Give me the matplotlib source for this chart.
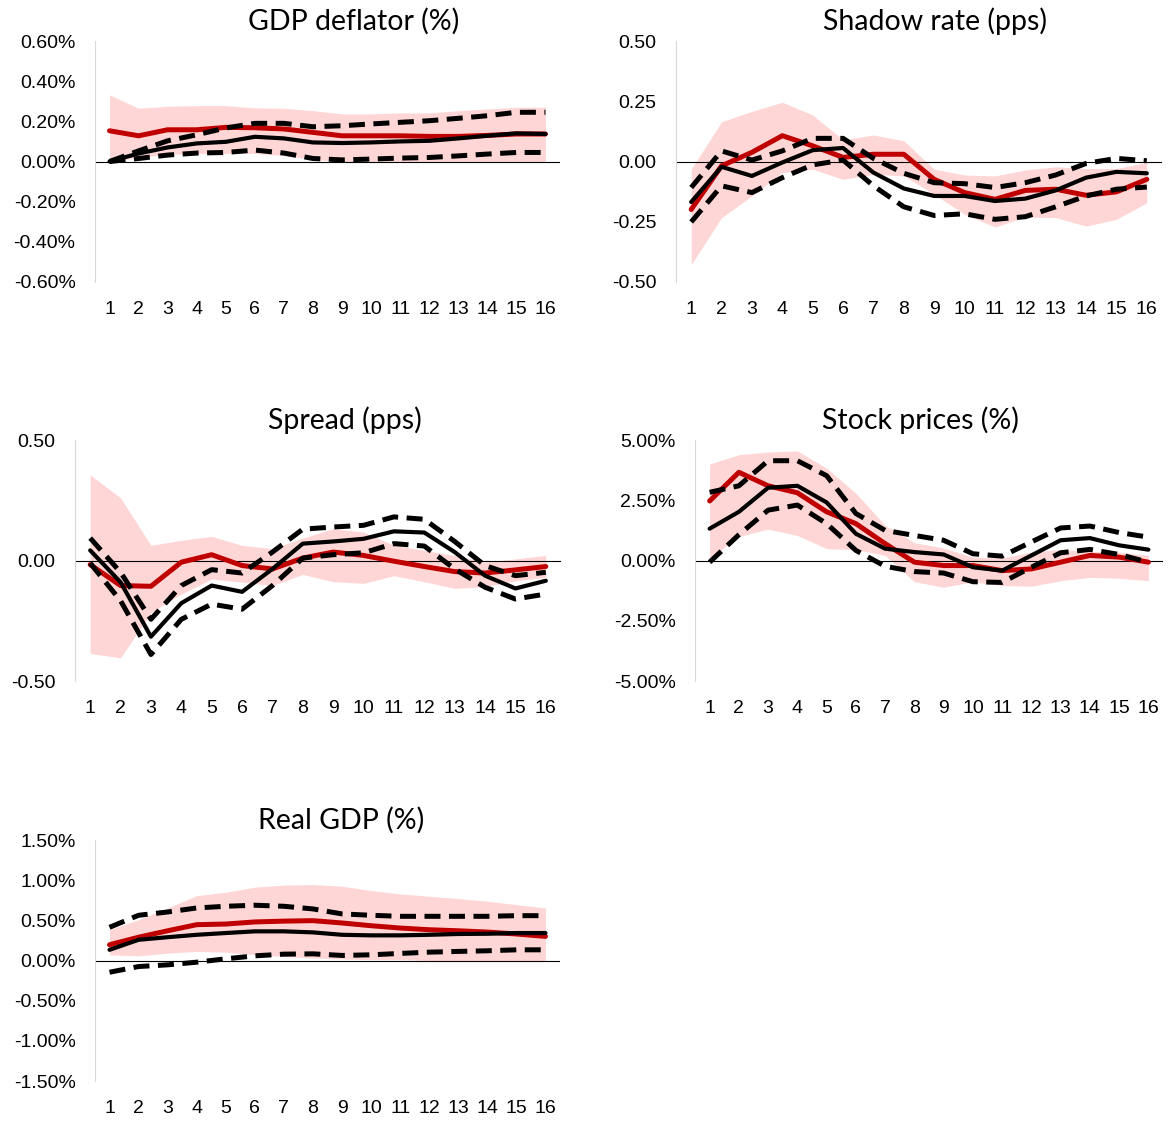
import numpy as np
import matplotlib
matplotlib.use("Agg")
import matplotlib.pyplot as plt
from matplotlib.ticker import FuncFormatter

plt.rcParams['font.family'] = ['Liberation Sans', 'DejaVu Sans']

# horizons
h = np.arange(1, 17)

# GDP deflator (%)
defl_red = [0.153, 0.128, 0.158, 0.158, 0.170, 0.168, 0.162, 0.145, 0.128, 0.128, 0.128, 0.125, 0.125, 0.130, 0.137, 0.137]
defl_mid = [0.0, 0.040, 0.070, 0.090, 0.098, 0.123, 0.115, 0.095, 0.092, 0.095, 0.100, 0.103, 0.115, 0.128, 0.140, 0.137]
defl_up = [0.0, 0.053, 0.103, 0.133, 0.167, 0.190, 0.190, 0.173, 0.178, 0.187, 0.195, 0.203, 0.215, 0.228, 0.245, 0.245]
defl_lo = [0.0, 0.015, 0.032, 0.042, 0.045, 0.057, 0.042, 0.015, 0.008, 0.012, 0.017, 0.020, 0.028, 0.037, 0.045, 0.045]
defl_bhi = [0.332, 0.265, 0.275, 0.278, 0.278, 0.267, 0.265, 0.253, 0.237, 0.237, 0.242, 0.242, 0.253, 0.262, 0.270, 0.270]
defl_blo = [0.0, 0.020, 0.035, 0.040, 0.040, 0.040, 0.030, 0.010, 0.0, 0.0, 0.0, -0.003, -0.005, -0.005, -0.005, -0.005]

# Shadow rate (pps)
shad_red = [-0.199, -0.018, 0.038, 0.107, 0.065, 0.017, 0.030, 0.030, -0.074, -0.129, -0.157, -0.120, -0.115, -0.140, -0.126, -0.074]
shad_mid = [-0.168, -0.022, -0.060, -0.004, 0.047, 0.056, -0.046, -0.112, -0.143, -0.143, -0.164, -0.154, -0.120, -0.067, -0.043, -0.049]
shad_up = [-0.108, 0.044, 0.006, 0.044, 0.096, 0.096, 0.013, -0.049, -0.088, -0.092, -0.108, -0.088, -0.056, -0.008, 0.013, 0.003]
shad_lo = [-0.251, -0.101, -0.129, -0.067, -0.014, 0.006, -0.101, -0.188, -0.224, -0.217, -0.240, -0.229, -0.188, -0.143, -0.115, -0.106]
shad_bhi = [-0.032, 0.165, 0.208, 0.246, 0.193, 0.090, 0.110, 0.086, -0.032, -0.056, -0.060, -0.035, -0.022, -0.029, -0.029, -0.004]
shad_blo = [-0.428, -0.233, -0.143, -0.046, -0.032, -0.074, -0.053, -0.060, -0.136, -0.219, -0.272, -0.230, -0.233, -0.268, -0.240, -0.171]

# Spread (pps)
spr_red = [-0.017, -0.104, -0.107, -0.007, 0.024, -0.021, -0.035, 0.010, 0.035, 0.021, -0.003, -0.025, -0.046, -0.052, -0.039, -0.025]
spr_mid = [0.042, -0.090, -0.316, -0.177, -0.104, -0.130, -0.035, 0.070, 0.079, 0.090, 0.121, 0.116, 0.035, -0.063, -0.116, -0.084]
spr_up = [0.093, -0.049, -0.244, -0.104, -0.038, -0.052, 0.035, 0.130, 0.139, 0.146, 0.181, 0.171, 0.079, -0.021, -0.063, -0.049]
spr_lo = [-0.011, -0.167, -0.390, -0.244, -0.181, -0.202, -0.104, 0.010, 0.024, 0.032, 0.070, 0.060, -0.035, -0.111, -0.160, -0.139]
spr_bhi = [0.355, 0.260, 0.063, 0.084, 0.100, 0.063, 0.049, 0.093, 0.132, 0.118, 0.063, 0.042, 0.021, -0.007, 0.007, 0.021]
spr_blo = [-0.386, -0.404, -0.216, -0.139, -0.077, -0.090, -0.104, -0.058, -0.088, -0.095, -0.063, -0.088, -0.116, -0.109, -0.084, -0.070]

# Stock prices (%)
stk_red = [2.47, 3.66, 3.10, 2.81, 2.02, 1.53, 0.70, -0.07, -0.21, -0.21, -0.42, -0.35, -0.07, 0.21, 0.14, -0.07]
stk_mid = [1.32, 2.02, 3.02, 3.10, 2.41, 1.11, 0.49, 0.35, 0.25, -0.28, -0.42, 0.21, 0.84, 0.93, 0.63, 0.45]
stk_up = [2.83, 3.10, 4.14, 4.14, 3.52, 1.95, 1.25, 1.04, 0.84, 0.28, 0.18, 0.77, 1.35, 1.43, 1.16, 0.97]
stk_lo = [-0.07, 1.07, 2.09, 2.30, 1.53, 0.42, -0.24, -0.46, -0.52, -0.88, -0.91, -0.28, 0.32, 0.46, 0.25, -0.07]
stk_bhi = [4.00, 4.39, 4.50, 4.55, 3.83, 2.79, 1.46, 0.74, 0.52, 0.14, 0.10, 0.35, 0.46, 0.38, 0.35, 0.21]
stk_blo = [0.10, 1.00, 1.30, 1.04, 0.49, 0.45, 0.21, -0.88, -1.11, -0.88, -1.04, -1.07, -0.84, -0.70, -0.74, -0.84]

# Real GDP (%)
gdp_red = [0.196, 0.290, 0.370, 0.446, 0.454, 0.480, 0.490, 0.496, 0.467, 0.433, 0.404, 0.383, 0.370, 0.354, 0.330, 0.300]
gdp_mid = [0.133, 0.258, 0.290, 0.320, 0.342, 0.363, 0.363, 0.350, 0.320, 0.313, 0.313, 0.320, 0.330, 0.333, 0.342, 0.342]
gdp_up = [0.413, 0.563, 0.604, 0.654, 0.675, 0.688, 0.675, 0.642, 0.580, 0.563, 0.550, 0.550, 0.550, 0.550, 0.558, 0.558]
gdp_lo = [-0.146, -0.075, -0.054, -0.021, 0.021, 0.058, 0.079, 0.083, 0.063, 0.071, 0.088, 0.104, 0.113, 0.121, 0.133, 0.133]
gdp_bhi = [0.383, 0.508, 0.654, 0.808, 0.850, 0.913, 0.938, 0.946, 0.925, 0.871, 0.829, 0.800, 0.771, 0.738, 0.696, 0.654]
gdp_blo = [0.070, 0.058, 0.092, 0.113, 0.104, 0.070, 0.050, 0.030, 0.020, 0.010, 0.010, 0.0, 0.0, -0.005, -0.012, -0.012]

W, H = 1169, 1121
fig = plt.figure(figsize=(W / 100, H / 100), dpi=100)

def make_panel(box, title, tx, ylim, yticks, fmt, red, mid, up, lo, bhi, blo):
    l, r, t, b = box
    ax = fig.add_axes([l / W, 1 - b / H, (r - l) / W, (b - t) / H])
    ax.fill_between(h, blo, bhi, color='#ffd6d6', lw=0, zorder=1)
    ax.axhline(0, color='black', lw=0.8, zorder=2)
    ax.plot(h, red, color='#c00000', lw=3.6, zorder=3, solid_capstyle='round')
    ax.plot(h, mid, color='black', lw=3.0, zorder=4, solid_capstyle='round')
    ax.plot(h, up, color='black', lw=3.6, dashes=(3.2, 1.7), zorder=4)
    ax.plot(h, lo, color='black', lw=3.6, dashes=(3.2, 1.7), zorder=4)
    ax.set_xlim(0.5, 16.5)
    ax.set_ylim(*ylim)
    ax.set_yticks(yticks)
    ax.set_xticks(h)
    ax.yaxis.set_major_formatter(FuncFormatter(lambda v, p: fmt % v))
    for s in ['top', 'right', 'bottom']:
        ax.spines[s].set_visible(False)
    ax.spines['left'].set_color('#d9d9d9')
    ax.tick_params(axis='both', length=0, labelsize=14, colors='black')
    ax.tick_params(axis='y', pad=14)
    ax.tick_params(axis='x', pad=14)
    fig.text(tx / W, 1 - t / H + 20 / H, title, ha='center', va='center',
             fontsize=20.5, family='Lato')
    return ax

make_panel((95, 560, 41, 282), 'GDP deflator (%)', 354, (-0.6, 0.6),
           np.arange(-0.6, 0.61, 0.2), '%.2f%%',
           defl_red, defl_mid, defl_up, defl_lo, defl_bhi, defl_blo)
make_panel((676, 1162, 41, 282), 'Shadow rate (pps)', 935, (-0.5, 0.5),
           np.arange(-0.5, 0.51, 0.25), '%.2f',
           shad_red, shad_mid, shad_up, shad_lo, shad_bhi, shad_blo)
make_panel((75, 561, 440, 681), 'Spread (pps)', 345, (-0.5, 0.5),
           [-0.5, 0.0, 0.5], '%.2f',
           spr_red, spr_mid, spr_up, spr_lo, spr_bhi, spr_blo)
make_panel((695, 1163, 440, 681), 'Stock prices (%)', 920, (-5, 5),
           np.arange(-5, 5.1, 2.5), '%.2f%%',
           stk_red, stk_mid, stk_up, stk_lo, stk_bhi, stk_blo)
make_panel((95, 560, 840, 1081), 'Real GDP (%)', 341, (-1.5, 1.5),
           np.arange(-1.5, 1.51, 0.5), '%.2f%%',
           gdp_red, gdp_mid, gdp_up, gdp_lo, gdp_bhi, gdp_blo)

fig.savefig('out.png', dpi=100)
